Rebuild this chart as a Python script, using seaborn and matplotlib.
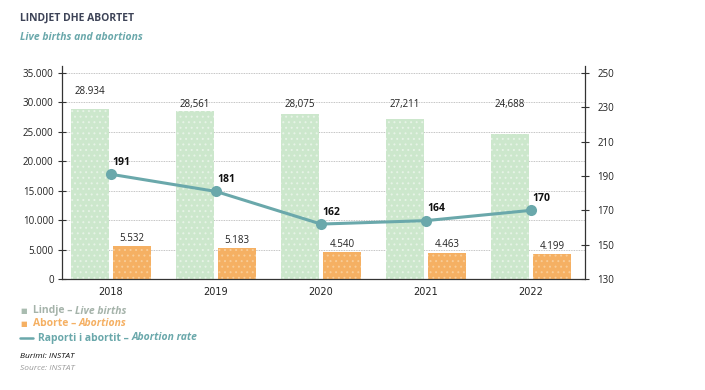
import numpy as np
import pandas as pd
import seaborn as sns
import matplotlib.pyplot as plt
from matplotlib.ticker import FuncFormatter

years = ['2018', '2019', '2020', '2021', '2022']
live_births = [28934, 28561, 28075, 27211, 24688]
abortions = [5532, 5183, 4540, 4463, 4199]
abortion_rate = [191, 181, 162, 164, 170]
birth_labels = ['28.934', '28,561', '28,075', '27,211', '24,688']
abortion_labels = ['5.532', '5.183', '4.540', '4.463', '4.199']

GREEN = '#cce7cc'
ORANGE = '#f5b063'
TEAL = '#6aa8ab'
DARK = '#3d4357'

sns.set_theme(style='white')
plt.rcParams['font.family'] = ['Open Sans', 'DejaVu Sans']
plt.rcParams['hatch.linewidth'] = 0.7

df = pd.DataFrame({
    'year': years * 2,
    'value': live_births + abortions,
    'series': ['Lindje'] * 5 + ['Aborte'] * 5,
})

fig = plt.figure(figsize=(7.05, 3.9), dpi=100)
ax = fig.add_axes([0.0879, 0.2846, 0.7418, 0.5462])

sns.barplot(data=df, x='year', y='value', hue='series', order=years,
            hue_order=['Lindje', 'Aborte'], palette=[GREEN, ORANGE],
            width=0.8, gap=0.1, legend=False, ax=ax, saturation=1, zorder=2)
for p in ax.patches:
    dot = '#e6f3e6' if p.get_facecolor()[1] > 0.85 else '#f9cc96'
    p.set_hatch('...')
    p.set_edgecolor(dot)
    p.set_linewidth(0)

ax.set_xlim(-0.467, 4.514)
ax.set_ylim(0, 35000 * 213 / 206)
ax.set_yticks(range(0, 35001, 5000))
ax.yaxis.set_major_formatter(FuncFormatter(lambda v, _: f'{int(v):,}'.replace(',', '.')))
for t in range(5000, 35001, 5000):
    ax.axhline(t, color='#b0b0b0', lw=0.6, ls=(0, (1, 1)), zorder=0)
ax.set_xlabel('')
ax.set_ylabel('')
ax.tick_params(axis='y', direction='inout', length=6, width=0.8, color='#333333',
               labelsize=7, pad=3, labelcolor='#222222')
ax.tick_params(axis='x', length=0, labelsize=7, pad=6, labelcolor='#222222')
for lab in ax.get_xticklabels():
    lab.set_family(['Liberation Sans Narrow', 'DejaVu Sans'])
for s in ['top', 'right']:
    ax.spines[s].set_visible(False)
for s in ['left', 'bottom']:
    ax.spines[s].set_color('#333333')
    ax.spines[s].set_linewidth(0.9)

# bar value labels
green_label_y = [31900, 29700, 29700, 29700, 29700]
for i, (lab, ly) in enumerate(zip(birth_labels, green_label_y)):
    ax.text(i - 0.2, ly, lab, ha='center', va='center', fontsize=7, color='#222222')
for i, (v, lab) in enumerate(zip(abortions, abortion_labels)):
    ax.annotate(lab, (i + 0.2, v), xytext=(0, 8), textcoords='offset pixels',
                ha='center', va='center', fontsize=7, color='#222222')

# abortion rate on the right axis
ax2 = ax.twinx()
rate_df = pd.DataFrame({'x': np.arange(len(years)), 'rate': abortion_rate})
sns.lineplot(data=rate_df, x='x', y='rate', ax=ax2, color=TEAL, lw=2.2,
             marker='o', markersize=8, markeredgewidth=0, legend=False)
ax2.set_ylim(130, 130 + 120 * 213 / 206)
ax2.set_yticks(range(130, 251, 20))
ax2.set_xlim(-0.467, 4.514)
ax2.set_ylabel('')
ax2.tick_params(axis='y', direction='inout', length=6, width=0.8, color='#333333',
                labelsize=7, pad=6, labelcolor='#222222')
for s in ['top', 'left', 'bottom']:
    ax2.spines[s].set_visible(False)
ax2.spines['right'].set_color('#333333')
ax2.spines['right'].set_linewidth(0.9)
for i, r in enumerate(abortion_rate):
    ax2.annotate(str(r), (i, r), xytext=(10, 12), textcoords='offset pixels',
                 ha='center', va='center', fontsize=7.5, fontweight='bold', color='#111111')

# titles
fig.text(20 / 705, 1 - 18 / 390, 'LINDJET DHE ABORTET', fontsize=7.5, fontweight='bold',
         color=DARK, va='center')
fig.text(20 / 705, 1 - 38 / 390, 'Live births and abortions', fontsize=7.5, fontweight='bold',
         style='italic', color=TEAL, va='center')

renderer = fig.canvas.get_renderer()


def pieces(x_px, y_px, parts):
    x = x_px
    for txt, kw in parts:
        t = fig.text(x / 705, 1 - y_px / 390, txt, va='center', fontsize=7.5,
                     fontweight='bold', **kw)
        bb = t.get_window_extent(renderer)
        x = bb.x1


GRAYGREEN = '#a5b3aa'
fig.text(20 / 705, 1 - 311 / 390, '■', fontsize=5, color='#a9bcb0', va='center',
         family='DejaVu Sans')
pieces(33, 311, [('Lindje – ', dict(color=GRAYGREEN)),
                 ('Live births', dict(color=GRAYGREEN, style='italic'))])
fig.text(20 / 705, 1 - 324 / 390, '■', fontsize=5, color=ORANGE, va='center',
         family='DejaVu Sans')
pieces(33, 324, [('Aborte – ', dict(color=ORANGE)),
                 ('Abortions', dict(color=ORANGE, style='italic'))])
fig.add_artist(plt.Line2D([20 / 705, 33 / 705], [1 - 338 / 390] * 2, color=TEAL, lw=1.8))
pieces(38, 338, [('Raporti i abortit – ', dict(color=TEAL)),
                 ('Abortion rate', dict(color=TEAL, style='italic'))])

fig.text(20 / 705, 1 - 357 / 390, 'Burimi: INSTAT', fontsize=6, style='italic',
         color='#111111', va='center')
fig.text(20 / 705, 1 - 368 / 390, 'Source: INSTAT', fontsize=6, style='italic',
         color='#9a9a9a', va='center')

fig.savefig('out.png', dpi=100)
